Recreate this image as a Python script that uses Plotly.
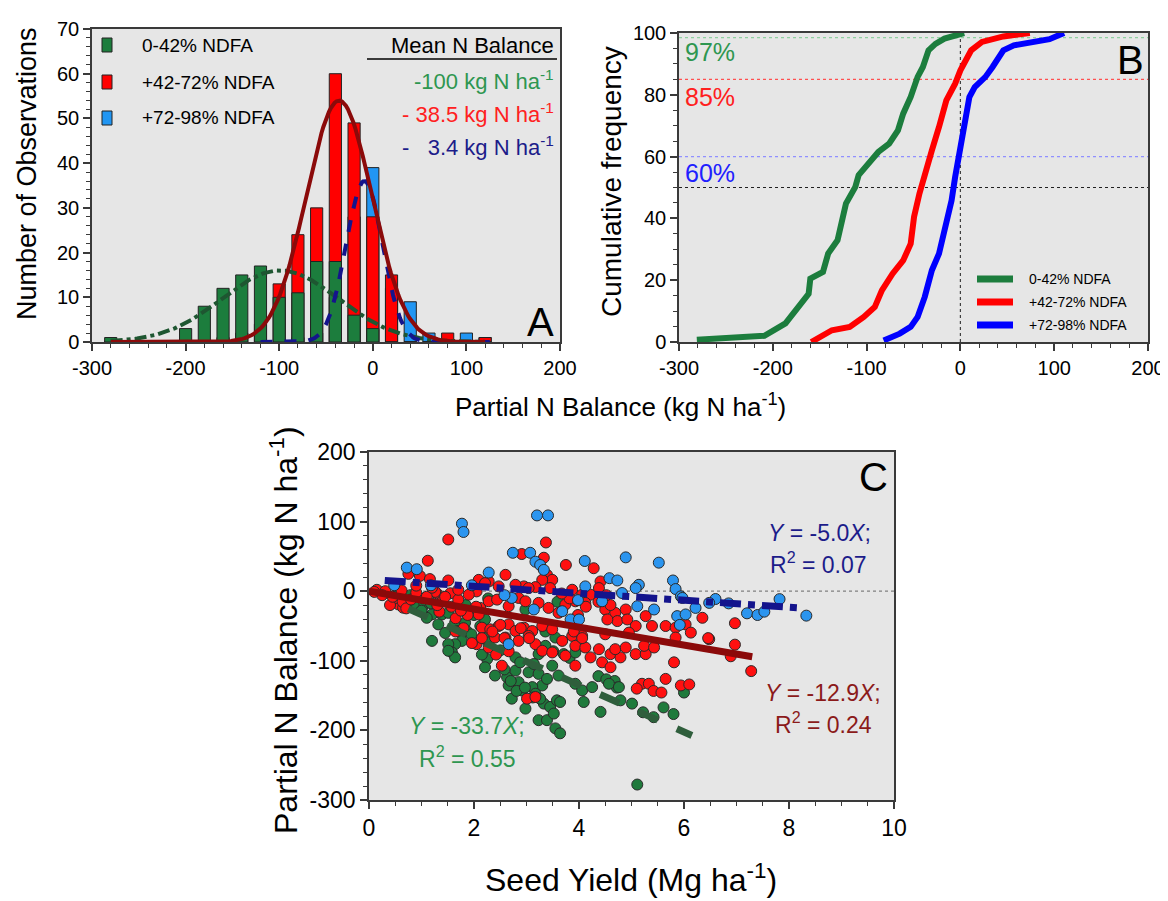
import numpy as np
import plotly.graph_objects as go

W, H = 1168, 901
OFF = 8                      # page body margin of the browser
FW, FH = W - OFF, H - OFF    # figure size so it fills the window
FONT = "Liberation Sans, Arial, sans-serif"

# ---------------- Panel A : histogram ----------------
bin_centers = [-280, -260, -240, -220, -200, -180, -160, -140, -120, -100, -80, -60,
               -40, -20, 0, 20, 40, 60, 80, 100, 120]
counts_low = [1, 0, 0, 0, 3, 8, 12, 15, 17, 10, 11, 18, 18, 6, 3, 0, 0, 0, 0, 0, 0]
counts_mid = [0, 0, 0, 0, 0, 0, 1, 2, 4, 13, 24, 30, 60, 49, 28, 15, 0, 0, 2, 0, 1]
counts_high = [0, 0, 0, 0, 0, 0, 0, 0, 0, 0, 1, 2, 10, 28, 39, 12, 9, 2, 0, 2, 1]

# fitted normal curves (peak height, centre, spread)
fit_low = dict(peak=16.0, mean=-99.0, sd=62.0, lo=-280, hi=120)
fit_mid = dict(peak=54.0, mean=-36.0, sd=35.0, lo=-280, hi=120)
fit_high = dict(peak=36.0, mean=-9.0, sd=19.5, lo=-120, hi=125)

mean_labels = ["-100 kg N ha<sup>-1</sup>", "-\u00a038.5 kg N ha<sup>-1</sup>",
               "-\u00a0\u00a0\u00a03.4 kg N ha<sup>-1</sup>"]
series_names = ["0-42% NDFA", "+42-72% NDFA", "+72-98% NDFA"]

balance_ticks = [-300, -200, -100, 0, 100, 200]
balance_ticktext = ["-300", "-200", "-100", "0", "100", "200"]
count_ticks = [0, 10, 20, 30, 40, 50, 60, 70]
freq_ticks = [0, 20, 40, 60, 80, 100]
yield_ticks = [0, 2, 4, 6, 8, 10]
c_bal_ticks = [-300, -200, -100, 0, 100, 200]
c_bal_ticktext = ["-300", "-200", "-100", "0", "100", "200"]

# ---------------- Panel B : cumulative frequency ----------------
cdf_low_x = [-281, -209, -186.5, -171, -161.8, -160, -146.5, -141, -131, -122, -112, -108.5,
             -95, -87.5, -76, -66.6, -61, -53, -45.6, -40, -34, -26.6, -17, -3.7, 4]
cdf_low_y = [0.75, 2, 6, 12.4, 15.6, 20.5, 22.7, 28.6, 32.9, 44.8, 50.2, 54,
             58.8, 61.5, 64.2, 68.5, 73.9, 79.3, 85.8, 89, 94.4, 96.5, 98.2, 99.2, 100]
cdf_mid_x = [-159, -148.4, -137, -118, -103, -91.3, -83.7, -72.3, -61, -53, -49.4, -43.7,
             -38, -30.4, -22.8, -15, -5.6, 0, 11.5, 23, 45.8, 74]
cdf_mid_y = [0, 1.6, 3.8, 4.9, 8.1, 11.3, 16.7, 22.1, 26.4, 31.8, 40.5, 48,
             53.4, 62, 69.6, 78.2, 83.6, 87.9, 94.4, 97.1, 98.9, 100]
cdf_high_x = [-81.8, -64.7, -53, -45.6, -38, -30.4, -22.8, -15, -9.4, -5.6, -1.8, 3.9,
              9.6, 15.3, 26.7, 34.3, 45.8, 57, 80, 95, 110.5]
cdf_high_y = [0.5, 2.7, 4.9, 8.1, 14.6, 23.2, 28.6, 38.3, 45.8, 53.4, 59.9, 69.6,
              79.3, 82.5, 85.8, 89, 94.4, 96, 97, 98, 100]
ref_levels = [98.5, 85, 60, 50]
ref_labels = ["97%", "85%", "60%"]

# ---------------- Panel C : scatter ----------------
low_x = [1.01, 1.20, 1.39, 1.51, 1.64, 1.83, 1.70, 1.86, 1.77, 1.64, 1.51, 1.58, 1.64, 1.51, 1.20,
         1.32, 1.10, 0.79, 0.99, 1.18, 0.56, 0.85, 1.00, 1.84, 2.00, 2.27, 2.15, 3.59, 3.36, 3.51,
         3.82, 2.12, 2.21, 2.18, 2.28, 2.98, 3.23, 3.36, 3.55, 3.71, 3.93, 2.25, 2.21, 2.40, 2.63,
         2.79, 2.85, 3.04, 3.14, 3.23, 3.30, 3.49, 3.61, 3.39, 3.11, 2.91, 3.93, 4.06, 4.25, 2.79,
         2.88, 2.66, 2.72, 2.98, 3.23, 3.39, 3.55, 3.64, 3.17, 3.33, 3.45, 3.52, 3.58, 3.64, 4.09,
         4.41, 4.79, 5.01, 3.26, 5.11, 4.37, 4.52, 4.68, 4.72, 5.22, 5.42, 5.61, 5.80, 6.00, 2.15,
         2.58, 2.70, 2.81, 2.97, 3.12, 4.57, 4.76, 1.45, 1.95, 2.50]
low_y = [-23.9, -33.4, -33.4, -31.1, -45.3, -45.3, -57.2, -57.2, -71.4, -76.1, -76.1, -88, -95.1,
         -85.6, -71.4, -47.7, -38.2, -5.7, -15.2, -17.5, -1, -20, -28, -19.9, -34.2, -10.4, -29.4,
         -15.2, -57.9, -86.3, -95.8, -50, -40.6, -64.3, -73.8, -26.3, -90.4, -78.5, -66.6, -90.4,
         -88, -97.5, -109.3, -121.2, -123.6, -114.1, -130.7, -116.5, -104.6, -118.8, -135.4, -107,
         -121.2, -126, -137.8, -142.6, -133, -142.6, -137.8, -95.1, -102.2, -135.4, -154.4, -168.7,
         -185.3, -185.3, -197.1, -204.2, -147.3, -161.5, -166.3, -175.8, -156.8, -159.2, -159.2,
         -173.4, -156.8, -161.5, -154.4, -277.8, -122, -126.6, -129, -138.5, -174, -181, -167,
         -176.5, -145.6, -91.1, -112.4, -129, -143.3, -138.5, -152.7, -133, -137.8, -60, -62, -85]

mid_x = [1.51, 1.12, 0.75, 0.97, 1.16, 1.51, 0.15, 0.31, 0.62, 1.29, 1.55, 0.56, 0.65,
         3.37, 2.91, 3.33, 3.75, 4.28, 2.60, 2.28, 2.09, 2.21, 3.39, 3.49, 3.30, 3.45, 3.17, 2.95,
         3.04, 2.79, 3.87, 4.06, 2.47, 2.05, 4.22, 4.41, 4.38,
         2.12, 2.28, 2.44, 2.66, 2.85, 2.98, 3.23, 3.42, 3.61, 3.74, 3.93, 4.12, 2.09, 2.15, 2.31,
         2.47, 2.66, 2.79, 2.95, 3.11, 3.30, 3.49, 2.40, 2.60, 2.85, 3.04, 3.17, 3.30, 3.49, 3.68,
         3.87, 4.06, 3.93, 4.12, 4.22, 3.74, 3.93, 2.53, 2.05, 2.28,
         4.50, 4.69, 4.89, 4.73, 4.92, 4.54, 5.08, 5.27, 5.39, 5.65, 5.84, 6.03, 6.35, 6.13, 6.48,
         5.84, 4.95, 4.50, 4.38, 4.60, 4.79, 4.44, 4.60, 4.69, 4.89, 5.08, 5.27, 5.24, 5.43, 5.81,
         5.20, 5.33, 5.65, 5.94, 6.10, 3.01, 3.17,
         0.25, 0.48, 0.64, 0.40, 0.71, 1.03, 1.26, 1.41, 1.57, 1.34, 1.65, 1.88, 2.04, 1.80, 1.96,
         2.15, 1.65, 2.50, 2.35, 2.58, 2.89, 3.05, 2.42, 2.66, 3.90, 4.06, 3.98, 4.13, 3.82, 3.67,
         4.37, 4.60, 4.52, 6.46, 6.97, 6.97, 6.89, 7.28, 5.10, 5.42, 5.57,
         0.10, 0.45, 0.80, 0.90, 1.10, 1.30, 1.45, 1.70, 1.75, 1.90, 1.20, 0.90, 1.70]
mid_y = [74.3, 43.8, 24.9, 22, 17.4, 15.4, 2, 0, 1, -3, -3, -19, -23.7,
         70, 53.4, 48.1, 37.7, 33, 23.5, 14, 16.3, 11.6, 23.5, 16.3, 16.3, 4.5, 5.9, 6.9,
         4.5, 9.2, 2.1, -5, 6.9, -0.3, -5, 14, 4.5,
         -24, -14.5, -12.1, -21.6, -9.7, -14.5, -16.8, -24, -31.1, -19.2, -14.5, -16.8, -33.4,
         -52.4, -54.8, -50, -47.7, -57.2, -52.4, -57.2, -50, -54.8, -66.6, -66.6, -71.4, -64.3,
         -76.1, -85.6, -88, -71.4, -64.3, -64.3, -78.5, -80.9, -95.1, -92.7, -107, -107, -76.1,
         -80.9,
         -26.3, -31.1, -26.3, -42.9, -40.6, -40.6, -50, -35.8, -50, -50, -52.4, -47.7, -38.2,
         -59.5, -69, -66.6, -59.5, -61.9, -83.3, -90.4, -95.1, -102.2, -109.3, -83.3, -80.9,
         -90.4, -90.4, -78.5, -80.9, -102.2, -133, -133, -126, -135.4, -134, -154.4, -152,
         -5.7, -10.4, -15.2, -19.9, -24.7, -10.4, -1, -12.8, -22.3, -29.4, -38.9, -34.2, -22.3,
         -53.1, -74.5, -67.4, -57.9, -48.4, -57.9, -67.4, -53.1, -67.4, -91.1, -86.3, -57.9,
         -67.4, -34.2, -22.3, -10.4, -3.3, -15.2, -19.9, -5.7, -67.4, -46, -76.8, -93.5, -114.8,
         -140, -143.3, -145.6,
         -1, -8, -12, -2, -8, -20, -8, -12, -28, -5, 5, 8, 2]

high_x = [1.77, 1.80, 0.72, 0.91, 3.20, 3.41, 2.74, 3.07, 3.17, 3.26, 3.33, 2.28, 4.11, 4.12,
          4.89, 5.52, 4.58, 4.73, 5.14, 5.08, 4.82, 5.79, 5.84, 5.94, 6.60, 2.72, 3.14, 3.68,
          3.84, 4.00, 2.66, 4.44, 5.11, 5.43, 5.97, 6.22, 6.48, 5.87, 6.03, 7.20, 7.40, 7.53,
          7.82, 8.33, 5.92, 1.96, 1.18, 0.48, 2.58, 3.98, 6.85]
high_y = [97, 85.1, 33.9, 31.6, 108.9, 108.9, 55.2, 55.2, 42.4, 37.7, 30.6, 26.8, 43.4, 6.9,
          48.6, 41, 18.7, 15.4, 9.2, 4.5, -2.6, 15.4, 3.1, -7.4, -11.2, -9.7, -26.3, -28.7,
          -40.6, -40.6, -76.1, -14.5, -21.6, -26.3, -9.7, -24, -16.8, -35.8, -33.4, -31.8, -34.2,
          -29.4, -11.4, -35.1, -48.4, 8.5, 8.5, 8.5, -5.7, -12.8, -17.5]

# regression lines: slope, intercept, x extent (as drawn)
reg_low = dict(slope=-33.7, icpt=0.0, x0=0.75, x1=6.15)
reg_mid = dict(slope=-12.9, icpt=0.0, x0=0.0, x1=7.3)
reg_high = dict(slope=-5.0, icpt=17.0, x0=0.3, x1=8.2)

# ---------------- colours ----------------
C_GREEN = "#1c7d3d"
C_RED = "#ff0000"
C_BLUE_BAR = "#2196f3"
C_DGREEN = "#1e5631"
C_DRED = "#8b0a0a"
C_NAVY = "#14148c"
T_GREEN = "#2e9650"
T_NAVY = "#1c1c8a"
T_DRED = "#8b1a1a"
EDGE = "#222222"
AX = "#3a3a3a"


def px_x(a, b):
    return [(a - OFF) / FW, (b - OFF) / FW]


def px_y(top, bottom):
    return [1 - (bottom - OFF) / FH, 1 - (top - OFF) / FH]


def fx(a):
    return (a - OFF) / FW


def fy(a):
    return 1 - (a - OFF) / FH


fig = go.Figure()

# ---- A bars (blue behind, red, green front)
for counts, col in [(counts_high, C_BLUE_BAR), (counts_mid, C_RED), (counts_low, C_GREEN)]:
    fig.add_trace(go.Bar(x=bin_centers, y=counts, width=13,
                         marker=dict(color=col, line=dict(color=EDGE, width=1)),
                         xaxis="x", yaxis="y"))


def gauss(p):
    xs = np.linspace(p["lo"], p["hi"], 200)
    return xs, p["peak"] * np.exp(-((xs - p["mean"]) ** 2) / (2 * p["sd"] ** 2))


for p, col, dash in [(fit_low, C_DGREEN, "dashdot"), (fit_high, C_NAVY, "dash"), (fit_mid, C_DRED, "solid")]:
    gx, gy = gauss(p)
    fig.add_trace(go.Scatter(x=gx, y=gy, mode="lines", line=dict(color=col, width=4, dash=dash),
                             xaxis="x", yaxis="y"))

# ---- B curves
for xs, ys, col in [(cdf_low_x, cdf_low_y, C_GREEN), (cdf_mid_x, cdf_mid_y, C_RED),
                    (cdf_high_x, cdf_high_y, "#0000ff")]:
    fig.add_trace(go.Scatter(x=xs, y=ys, mode="lines", line=dict(color=col, width=6),
                             xaxis="x2", yaxis="y2"))

# ---- C scatter
for xs, ys, col in [(low_x, low_y, "#1f7a3c"), (mid_x, mid_y, "#ff1010"), (high_x, high_y, "#2b95ef")]:
    fig.add_trace(go.Scatter(x=xs, y=ys, mode="markers",
                             marker=dict(size=11, color=col, line=dict(color="#2a2a2a", width=1)),
                             xaxis="x3", yaxis="y3"))

for r, col, dash in [(reg_low, "#2f5e3c", "dash"), (reg_mid, C_DRED, "solid"), (reg_high, C_NAVY, "dashdot")]:
    xs = [r["x0"], r["x1"]]
    ys = [r["icpt"] + r["slope"] * v for v in xs]
    fig.add_trace(go.Scatter(x=xs, y=ys, mode="lines", line=dict(color=col, width=7, dash=dash),
                             xaxis="x3", yaxis="y3"))


def axis(domain, rng, tickvals, ticktext, mdtick, size, anchor):
    return dict(domain=domain, range=rng, tickmode="array", tickvals=tickvals, ticktext=ticktext,
                showline=True, linecolor=AX, linewidth=1.5, automargin=False,
                mirror=True, ticks="outside", ticklen=7, tickwidth=1.5, tickcolor=AX,
                minor=dict(ticks="outside", ticklen=4, tickwidth=1, tickcolor=AX, dtick=mdtick),
                showgrid=False, zeroline=False, anchor=anchor,
                tickfont=dict(family=FONT, size=size, color="black"))


fig.update_layout(
    width=FW, height=FH, autosize=False, margin=dict(l=0, r=0, t=0, b=0),
    paper_bgcolor="white", plot_bgcolor="#e6e6e6", showlegend=False, barmode="overlay",
    xaxis=axis(px_x(92, 560), [-300, 200], balance_ticks, balance_ticktext, 20, 20, "y"),
    yaxis=axis(px_y(29, 342), [0, 70], count_ticks, [str(v) for v in count_ticks], 2, 20, "x"),
    xaxis2=axis(px_x(679, 1148), [-300, 200], balance_ticks, balance_ticktext, 20, 20, "y2"),
    yaxis2=axis(px_y(33, 342), [0, 100], freq_ticks, [str(v) for v in freq_ticks], 5, 20, "x2"),
    xaxis3=axis(px_x(369, 894), [0, 10], yield_ticks, [str(v) for v in yield_ticks], 0.5, 23, "y3"),
    yaxis3=axis(px_y(452, 800), [-300, 200], c_bal_ticks, c_bal_ticktext, 20, 23, "x3"),
)

shapes = []
ann = []


def pann(text, x, y, size, color="black", xanchor="center", angle=0):
    ann.append(dict(text=text, x=fx(x), y=fy(y), xref="paper", yref="paper", showarrow=False,
                    xanchor=xanchor, yanchor="middle", textangle=angle,
                    font=dict(family=FONT, size=size, color=color)))


# A legend
for (yc, col, name) in zip([45, 82, 118], [C_GREEN, C_RED, C_BLUE_BAR], series_names):
    shapes.append(dict(type="rect", xref="paper", yref="paper", x0=fx(102), x1=fx(112),
                       y0=fy(yc + 7), y1=fy(yc - 7), fillcolor=col, line=dict(color=EDGE, width=1)))
    pann(name, 140, yc, 19, xanchor="left")

pann("Mean N Balance", 556, 46, 22, xanchor="right")
shapes.append(dict(type="line", xref="paper", yref="paper", x0=fx(367), x1=fx(557), y0=fy(59), y1=fy(59),
                   line=dict(color="black", width=1.5)))
for yc, col, txt in zip([80, 113, 146], [T_GREEN, "#ff2020", T_NAVY], mean_labels):
    pann(txt, 556, yc, 22, color=col, xanchor="right")
pann("A", 540, 322, 40)

# B reference lines
for lvl, col in zip(ref_levels, ["#8fd0a0", "#ff5050", "#9090ff", "#202020"]):
    shapes.append(dict(type="line", xref="x2", yref="y2", x0=-300, x1=200, y0=lvl, y1=lvl,
                       line=dict(color=col, width=1.2, dash="dot"), layer="below"))
shapes.append(dict(type="line", xref="x2", yref="y2", x0=0, x1=0, y0=0, y1=100,
                   line=dict(color="#404040", width=1.2, dash="dot"), layer="below"))
for txt, col, yc in zip(ref_labels, [T_GREEN, "#ff2020", "#2020ff"], [52, 97, 173]):
    pann(txt, 683, yc, 25, color=col, xanchor="left")
pann("B", 1130, 60, 40)
for yc, col, name in zip([279, 302, 325], [C_GREEN, C_RED, "#0000ff"], series_names):
    shapes.append(dict(type="line", xref="paper", yref="paper", x0=fx(977), x1=fx(1013),
                       y0=fy(yc), y1=fy(yc), line=dict(color=col, width=7)))
    pann(name, 1027, yc, 14, xanchor="left")

# C zero line and labels
shapes.append(dict(type="line", xref="x3", yref="y3", x0=0, x1=10, y0=0, y1=0,
                   line=dict(color="#808080", width=1.2, dash="dot"), layer="below"))


def dann(text, x, y, size, color):
    ann.append(dict(text=text, x=x, y=y, xref="x3", yref="y3", showarrow=False, xanchor="center",
                    yanchor="middle", font=dict(family=FONT, size=size, color=color)))


dann("<i>Y</i> = -5.0<i>X</i>;", 8.58, 83, 23, T_NAVY)
dann("R<sup>2</sup> = 0.07", 8.56, 40, 23, T_NAVY)
dann("<i>Y</i> = -12.9<i>X</i>;", 8.65, -146, 23, T_DRED)
dann("R<sup>2</sup> = 0.24", 8.66, -190, 23, T_DRED)
dann("<i>Y</i> = -33.7<i>X</i>;", 1.87, -193, 23, T_GREEN)
dann("R<sup>2</sup> = 0.55", 1.87, -238, 23, T_GREEN)
dann("C", 9.61, 164, 40, "black")

# axis titles
pann("Number of Observations", 27, 174, 27, angle=-90)
pann("Cumulative frequency", 612, 182, 28, angle=-90)
pann("Partial N Balance (kg N ha<sup>-1</sup>)", 620, 405, 26)
pann("Partial N Balance (kg N ha<sup>-1</sup>)", 284, 630, 32, angle=-90)
pann("Seed Yield (Mg ha<sup>-1</sup>)", 631, 878, 32)

fig.update_layout(shapes=shapes, annotations=ann)
fig.write_html("out.html")
